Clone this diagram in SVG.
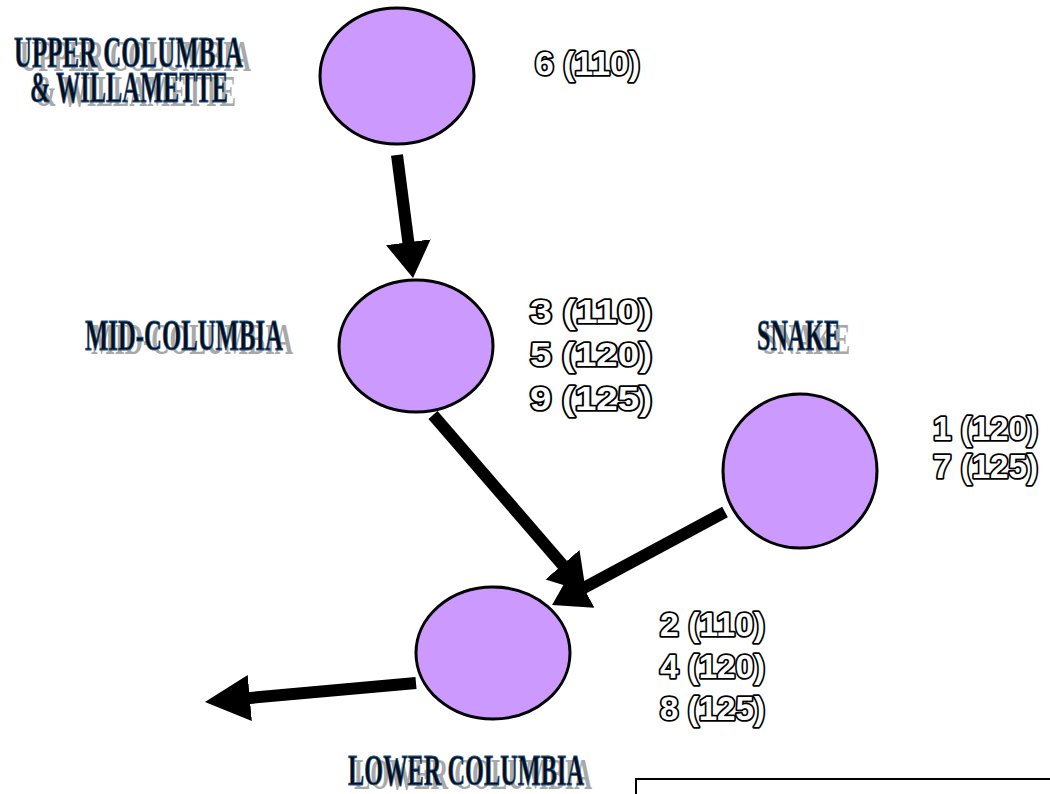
<svg xmlns="http://www.w3.org/2000/svg" width="1050" height="794" viewBox="0 0 1050 794">
<style>
.node{fill:#cc99ff;stroke:#000;stroke-width:3}
.arrow{stroke:#000;stroke-width:12;fill:none}
.hdr{font-family:"Liberation Serif","Times New Roman",serif;font-weight:bold;font-size:44px;fill:#05101f;stroke:#2a5a8a;stroke-width:0.8}
.shd{font-family:"Liberation Serif","Times New Roman",serif;font-weight:bold;font-size:44px;fill:#a8a8a8}
.num{font-family:"Liberation Sans",Arial,sans-serif;font-weight:bold;font-size:34px;fill:#fff;stroke:#000;stroke-width:3.6;paint-order:stroke;stroke-linejoin:round}
</style>
<defs>
<marker id="head" viewBox="0 0 36 45" markerWidth="36" markerHeight="45" markerUnits="userSpaceOnUse" refX="8" refY="22.5" orient="auto"><path d="M0,0 L36,22.5 L0,45 z" fill="#000"/></marker>
<marker id="head2" viewBox="0 0 45 46" markerWidth="45" markerHeight="46" markerUnits="userSpaceOnUse" refX="8" refY="23" orient="auto"><path d="M0,0 L45,23 L0,46 z" fill="#000"/></marker>
</defs>
<rect width="1050" height="794" fill="#fff"/>
<g id="upper">
<ellipse class="node" cx="397" cy="76" rx="77" ry="68"/>
<text class="shd" x="20" y="71" textLength="231" lengthAdjust="spacingAndGlyphs">UPPER COLUMBIA</text>
<text class="hdr" x="14" y="67" textLength="229" lengthAdjust="spacingAndGlyphs">UPPER COLUMBIA</text>
<text class="shd" x="36" y="106" textLength="200" lengthAdjust="spacingAndGlyphs">&amp; WILLAMETTE</text>
<text class="hdr" x="30" y="102" textLength="198" lengthAdjust="spacingAndGlyphs">&amp; WILLAMETTE</text>
<text class="num" x="535" y="75" textLength="105" lengthAdjust="spacingAndGlyphs">6 (110)</text>
</g>
<g id="mid">
<ellipse class="node" cx="416" cy="346" rx="77" ry="66"/>
<text class="shd" x="91" y="354" textLength="202" lengthAdjust="spacingAndGlyphs">MID-COLUMBIA</text>
<text class="hdr" x="85" y="350" textLength="198" lengthAdjust="spacingAndGlyphs">MID-COLUMBIA</text>
<text class="num" x="530" y="323" textLength="122" lengthAdjust="spacingAndGlyphs">3 (110)</text>
<text class="num" x="530" y="366" textLength="122" lengthAdjust="spacingAndGlyphs">5 (120)</text>
<text class="num" x="530" y="410" textLength="122" lengthAdjust="spacingAndGlyphs">9 (125)</text>
</g>
<g id="snake">
<ellipse class="node" cx="800" cy="471" rx="77" ry="77"/>
<text class="shd" x="763" y="354" textLength="87" lengthAdjust="spacingAndGlyphs">SNAKE</text>
<text class="hdr" x="757" y="350" textLength="83" lengthAdjust="spacingAndGlyphs">SNAKE</text>
<text class="num" x="933" y="440" textLength="105" lengthAdjust="spacingAndGlyphs">1 (120)</text>
<text class="num" x="933" y="478" textLength="105" lengthAdjust="spacingAndGlyphs">7 (125)</text>
</g>
<g id="lower">
<ellipse class="node" cx="493" cy="653" rx="77" ry="66"/>
<text class="shd" x="354" y="789" textLength="238" lengthAdjust="spacingAndGlyphs">LOWER COLUMBIA</text>
<text class="hdr" x="348" y="785" textLength="236" lengthAdjust="spacingAndGlyphs">LOWER COLUMBIA</text>
<text class="num" x="660" y="636" textLength="105" lengthAdjust="spacingAndGlyphs">2 (110)</text>
<text class="num" x="660" y="678" textLength="105" lengthAdjust="spacingAndGlyphs">4 (120)</text>
<text class="num" x="660" y="720" textLength="105" lengthAdjust="spacingAndGlyphs">8 (125)</text>
</g>
<g id="connectors">
<line class="arrow" x1="397" y1="155" x2="409.4" y2="250.2" marker-end="url(#head)"/>
<line class="arrow" x1="433" y1="415" x2="567.7" y2="570.8" marker-end="url(#head)"/>
<line class="arrow" x1="725" y1="512" x2="576.7" y2="591.7" marker-end="url(#head)"/>
<line class="arrow" x1="416" y1="683" x2="241.8" y2="698.7" marker-end="url(#head2)"/>
</g>
<rect x="636" y="779" width="420" height="40" fill="none" stroke="#000" stroke-width="2"/>
</svg>
